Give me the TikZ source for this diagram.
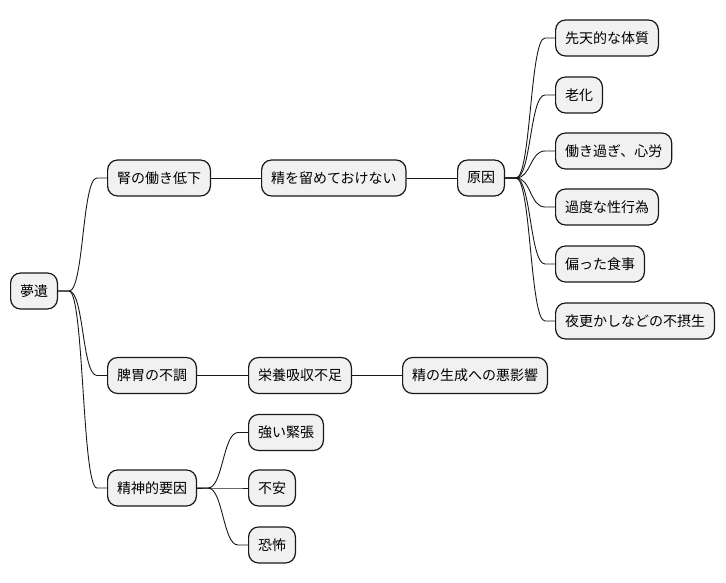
\documentclass[tikz,border=0pt]{standalone}
\usepackage{fontspec}
\newfontfamily\cjk{Noto Sans CJK JP}
\usetikzlibrary{calc}
\definecolor{boxfill}{HTML}{F1F1F1}
\definecolor{boxline}{HTML}{181818}
\tikzset{
  mm/.style={draw=boxline, fill=boxfill, line width=1.2pt, rounded corners=10pt,
    minimum height=36pt, inner xsep=9.4pt, inner ysep=0pt, anchor=west,
    font=\cjk\fontsize{14}{16}\selectfont, text=black},
  conn/.style={draw=boxline, line width=0.9pt}
}
\newcommand\forkto[2]{\draw[conn] (#1.east) -- ($(#1.east)+(11,0)$) .. controls ($(#1.east)+(26,0)$) and ($(#2.west)+(-25,0)$) .. ($(#2.west)+(-10,0)$) -- (#2.west);}
\begin{document}
\begin{tikzpicture}[x=1pt,y=-1pt]
\useasboundingbox (0,0) rectangle (726,583);
\node[mm] (root) at (10,291) {夢遺};
\node[mm] (jin) at (107,178) {腎の働き低下};
\node[mm] (sei) at (261,178) {精を留めておけない};
\node[mm] (gen) at (457,178) {原因};
\node[mm] (c1) at (555,38) {先天的な体質};
\node[mm] (c2) at (555,95) {老化};
\node[mm] (c3) at (555,151) {働き過ぎ、心労};
\node[mm] (c4) at (555,207) {過度な性行為};
\node[mm] (c5) at (555,264) {偏った食事};
\node[mm] (c6) at (555,321) {夜更かしなどの不摂生};
\node[mm] (hii) at (107,375.5) {脾胃の不調};
\node[mm] (eiyo) at (248,375.5) {栄養吸収不足};
\node[mm] (seisei) at (402,375.5) {精の生成への悪影響};
\node[mm] (seishin) at (107,488) {精神的要因};
\node[mm] (kin) at (248,432.5) {強い緊張};
\node[mm] (fuan) at (248,488) {不安};
\node[mm] (kyofu) at (248,545) {恐怖};
\forkto{root}{jin}
\forkto{root}{hii}
\forkto{root}{seishin}
\draw[conn] (jin.east) -- (sei.west);
\draw[conn] (sei.east) -- (gen.west);
\forkto{gen}{c1}
\forkto{gen}{c2}
\forkto{gen}{c3}
\forkto{gen}{c4}
\forkto{gen}{c5}
\forkto{gen}{c6}
\draw[conn] (hii.east) -- (eiyo.west);
\draw[conn] (eiyo.east) -- (seisei.west);
\forkto{seishin}{kin}
\forkto{seishin}{fuan}
\forkto{seishin}{kyofu}
\end{tikzpicture}
\end{document}
